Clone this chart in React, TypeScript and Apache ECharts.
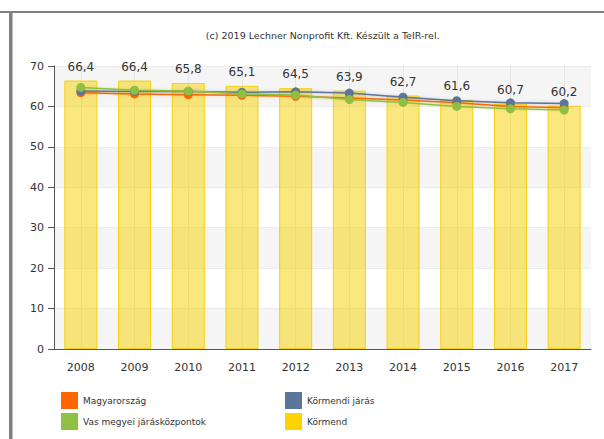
import React, { useEffect, useRef } from "react";
import * as echarts from "echarts";

const years = ["2008", "2009", "2010", "2011", "2012", "2013", "2014", "2015", "2016", "2017"];
const kormend = [66.4, 66.4, 65.8, 65.1, 64.5, 63.9, 62.7, 61.6, 60.7, 60.2];
const magyarorszag = [63.4, 63.1, 62.9, 62.75, 62.5, 62.1, 61.6, 60.9, 60.0, 59.7];
const kormendiJaras = [63.8, 63.7, 63.7, 63.5, 63.6, 63.3, 62.3, 61.4, 60.9, 60.7];
const vasMegyei = [64.7, 64.0, 63.8, 63.1, 62.8, 61.7, 61.0, 60.0, 59.4, 59.1];
const yTicks = { min: 0, max: 70, interval: 10 };

const FONT = "DejaVu Sans";
const C_ORANGE = "#ff6600";
const C_BLUE = "#5b7698";
const C_GREEN = "#8fc043";
const C_YELLOW = "#ffd200";

export default function App() {
  const ref = useRef<HTMLDivElement>(null);
  useEffect(() => {
    if (!ref.current) return;
    const chart = echarts.init(ref.current, undefined, { renderer: "svg" });
    const lineSeries = (name: string, data: number[], color: string) => ({
      name,
      type: "line",
      data,
      symbol: "circle",
      symbolSize: 9,
      showSymbol: true,
      itemStyle: { color },
      lineStyle: { color, width: 1.5, shadowColor: color + "55", shadowBlur: 3 },
      z: 3,
    });
    const legendText = { fontFamily: FONT, fontSize: 9, color: "#333" };
    const mkLegend = (name: string, color: string, left: number, top: number) => ({
      data: [{ name, icon: "rect", itemStyle: { color, borderWidth: 0 } }],
      left,
      top,
      itemWidth: 17,
      itemHeight: 17,
      itemGap: 0,
      textStyle: legendText,
      padding: 0,
      selectedMode: false,
    });
    chart.setOption({
      animation: false,
      backgroundColor: "#ffffff",
      textStyle: { fontFamily: FONT },
      grid: { left: 54, right: 13, top: 66, bottom: 90, containLabel: false },
      graphic: [
        { type: "rect", shape: { x: 0, y: 11, width: 604, height: 2 }, style: { fill: "#808080" } },
        { type: "rect", shape: { x: 9, y: 11, width: 3.5, height: 428 }, style: { fill: "#808080" } },
        {
          type: "text",
          x: 322.7,
          y: 35,
          style: {
            text: "(c) 2019 Lechner Nonprofit Kft. Készült a TeIR-rel.",
            fontFamily: FONT,
            fontSize: 9.5,
            fill: "#333",
            align: "center",
            verticalAlign: "middle",
          },
        },
      ],
      legend: [
        mkLegend("Magyarország", C_ORANGE, 61, 392),
        mkLegend("Körmendi járás", C_BLUE, 285, 392),
        mkLegend("Vas megyei járásközpontok", C_GREEN, 61, 413),
        mkLegend("Körmend", C_YELLOW, 285, 413),
      ],
      xAxis: {
        type: "category",
        data: years,
        boundaryGap: true,
        axisLine: { lineStyle: { color: "#555", width: 1 } },
        axisTick: { alignWithLabel: true, length: 5, lineStyle: { color: "#555" } },
        axisLabel: { fontFamily: FONT, fontSize: 11, color: "#333", margin: 13 },
        splitLine: { show: true, alignWithLabel: true, lineStyle: { color: "#e4e4e4", width: 1 } },
      },
      yAxis: {
        type: "value",
        min: yTicks.min,
        max: yTicks.max,
        interval: yTicks.interval,
        axisLine: { show: true, lineStyle: { color: "#555", width: 1 } },
        axisTick: { show: true, length: 6, lineStyle: { color: "#555" } },
        axisLabel: { fontFamily: FONT, fontSize: 11, color: "#333", margin: 10 },
        splitLine: { show: true, lineStyle: { color: "#ececec" } },
        splitArea: { show: true, areaStyle: { color: ["#f5f5f5", "#ffffff"] } },
      },
      series: [
        {
          name: "Körmend",
          type: "bar",
          data: kormend,
          barWidth: 33,
          itemStyle: { color: "rgba(246,212,20,0.55)", borderColor: "#f9d00a", borderWidth: 1 },
          label: {
            show: true,
            position: "top",
            distance: 8,
            fontFamily: FONT,
            fontSize: 12,
            color: "#333",
            formatter: (p: any) => String(p.value).replace(".", ","),
          },
          z: 2,
        },
        lineSeries("Magyarország", magyarorszag, C_ORANGE),
        lineSeries("Körmendi járás", kormendiJaras, C_BLUE),
        lineSeries("Vas megyei járásközpontok", vasMegyei, C_GREEN),
      ],
    });
    return () => chart.dispose();
  }, []);
  return <div ref={ref} style={{ position: "fixed", left: 0, top: 0, width: 604, height: 439 }} />;
}
